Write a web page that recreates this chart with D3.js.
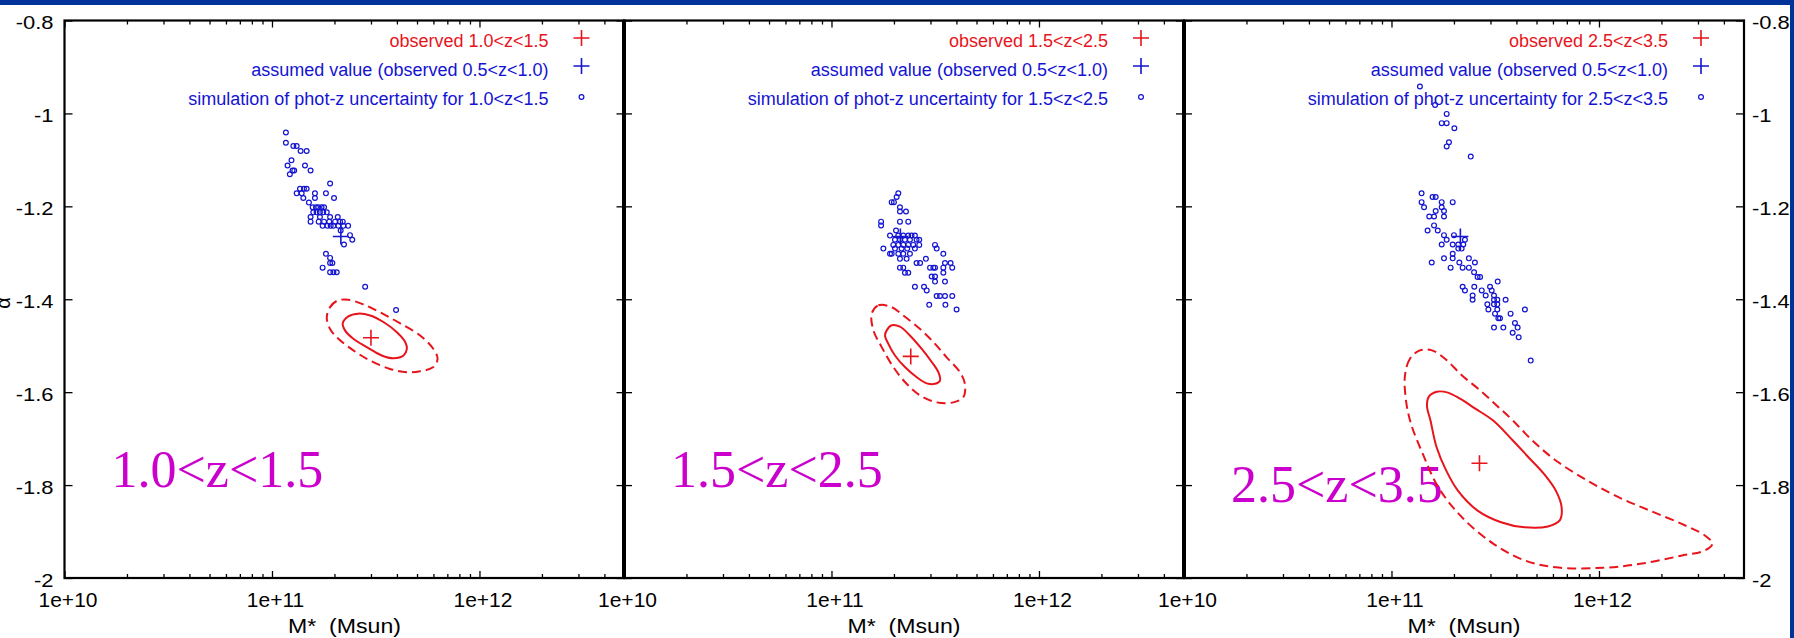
<!doctype html>
<html lang="en">
<head>
<meta charset="utf-8">
<title>alpha vs M* for three redshift bins</title>
<script src="https://cdn.jsdelivr.net/npm/d3@7"></script>
<style>
  body { margin: 0; background: #fff; }
  svg text { font-family: "Liberation Sans", Arial, Helvetica, sans-serif; }
</style>
</head>
<body>
<svg id="chart" width="1794" height="638"></svg>
<script>
// ---- data (log10 M*, alpha) ----
var zBins = ["1.0<z<1.5", "1.5<z<2.5", "2.5<z<3.5"];
var massTicks = [1e10, 1e11, 1e12];
var massTickLabels = ["1e+10", "1e+11", "1e+12"];
var minorMassTicks = [2e10, 3e10, 4e10, 5e10, 6e10, 7e10, 8e10, 9e10,
  2e11, 3e11, 4e11, 5e11, 6e11, 7e11, 8e11, 9e11, 2e12, 3e12, 4e12];
var alphaTicks = [-0.8, -1, -1.2, -1.4, -1.6, -1.8, -2];
var alphaTickLabels = ["-0.8", "-1", "-1.2", "-1.4", "-1.6", "-1.8", "-2"];

var assumedValue = [11.332, -1.265];
var observed = [[11.477, -1.483], [11.382, -1.523], [11.424, -1.753]];

var sim1 = [[11.067,-1.041],[11.067,-1.063],[11.103,-1.070],[11.119,-1.070],[11.138,-1.081],[11.167,-1.081],
  [11.094,-1.101],[11.075,-1.112],[11.099,-1.123],[11.086,-1.131],[11.107,-1.123],[11.159,-1.112],[11.186,-1.123],
  [11.280,-1.151],[11.135,-1.162],[11.154,-1.162],[11.167,-1.162],[11.119,-1.172],[11.143,-1.172],[11.151,-1.182],
  [11.207,-1.172],[11.207,-1.182],[11.260,-1.172],[11.299,-1.182],[11.178,-1.192],[11.196,-1.202],[11.212,-1.202],
  [11.223,-1.202],[11.239,-1.202],[11.251,-1.202],[11.199,-1.213],[11.215,-1.213],[11.231,-1.213],[11.247,-1.213],
  [11.264,-1.213],[11.186,-1.223],[11.231,-1.223],[11.280,-1.223],[11.317,-1.223],[11.186,-1.233],[11.225,-1.233],
  [11.251,-1.233],[11.276,-1.233],[11.304,-1.233],[11.328,-1.233],[11.341,-1.233],[11.244,-1.242],[11.267,-1.242],
  [11.283,-1.242],[11.296,-1.242],[11.320,-1.242],[11.344,-1.242],[11.367,-1.242],[11.331,-1.252],[11.376,-1.262],
  [11.387,-1.272],[11.347,-1.282],[11.260,-1.302],[11.280,-1.311],[11.280,-1.322],[11.291,-1.322],[11.244,-1.332],
  [11.280,-1.342],[11.296,-1.342],[11.312,-1.342],[11.449,-1.373],[11.598,-1.423]];

var sim2 = [[11.322,-1.172],[11.314,-1.180],[11.290,-1.191],[11.301,-1.191],[11.330,-1.202],[11.359,-1.211],
  [11.330,-1.211],[11.239,-1.233],[11.239,-1.241],[11.330,-1.233],[11.370,-1.233],[11.311,-1.252],[11.282,-1.263],
  [11.322,-1.263],[11.346,-1.263],[11.370,-1.263],[11.386,-1.263],[11.402,-1.263],[11.306,-1.272],[11.330,-1.272],
  [11.354,-1.272],[11.378,-1.272],[11.410,-1.272],[11.423,-1.272],[11.298,-1.283],[11.322,-1.283],[11.346,-1.283],
  [11.370,-1.283],[11.394,-1.283],[11.423,-1.283],[11.250,-1.291],[11.306,-1.291],[11.338,-1.291],[11.365,-1.291],
  [11.402,-1.291],[11.282,-1.302],[11.290,-1.302],[11.322,-1.302],[11.346,-1.302],[11.378,-1.302],[11.499,-1.283],
  [11.507,-1.291],[11.539,-1.302],[11.330,-1.313],[11.362,-1.313],[11.410,-1.322],[11.427,-1.322],[11.455,-1.313],
  [11.330,-1.332],[11.346,-1.332],[11.354,-1.343],[11.370,-1.343],[11.475,-1.332],[11.491,-1.332],[11.499,-1.332],
  [11.547,-1.322],[11.574,-1.322],[11.539,-1.332],[11.582,-1.332],[11.483,-1.351],[11.499,-1.351],[11.539,-1.343],
  [11.499,-1.362],[11.547,-1.362],[11.402,-1.373],[11.446,-1.373],[11.459,-1.381],[11.507,-1.393],[11.523,-1.393],
  [11.547,-1.393],[11.582,-1.393],[11.471,-1.412],[11.549,-1.412],[11.603,-1.422]];

var sim3 = [[11.137,-0.942],[11.210,-0.982],[11.266,-1.001],[11.242,-1.021],[11.266,-1.021],[11.303,-1.032],
  [11.277,-1.062],[11.266,-1.071],[11.382,-1.093],[11.145,-1.172],[11.145,-1.191],[11.157,-1.202],[11.198,-1.180],
  [11.213,-1.180],[11.242,-1.191],[11.295,-1.191],[11.242,-1.202],[11.213,-1.210],[11.253,-1.210],[11.182,-1.222],
  [11.205,-1.222],[11.253,-1.222],[11.205,-1.241],[11.174,-1.252],[11.223,-1.252],[11.253,-1.262],[11.301,-1.262],
  [11.266,-1.272],[11.242,-1.282],[11.354,-1.272],[11.295,-1.282],[11.322,-1.282],[11.346,-1.282],[11.322,-1.291],
  [11.338,-1.291],[11.295,-1.302],[11.295,-1.312],[11.194,-1.321],[11.253,-1.312],[11.285,-1.332],[11.327,-1.321],
  [11.343,-1.332],[11.373,-1.332],[11.373,-1.312],[11.402,-1.321],[11.398,-1.342],[11.415,-1.352],[11.427,-1.352],
  [11.512,-1.362],[11.343,-1.373],[11.399,-1.373],[11.354,-1.381],[11.435,-1.381],[11.391,-1.392],[11.391,-1.401],
  [11.454,-1.392],[11.475,-1.373],[11.483,-1.381],[11.494,-1.392],[11.494,-1.401],[11.510,-1.401],[11.550,-1.401],
  [11.462,-1.411],[11.494,-1.411],[11.510,-1.411],[11.467,-1.422],[11.510,-1.422],[11.643,-1.422],[11.499,-1.431],
  [11.515,-1.441],[11.574,-1.431],[11.523,-1.441],[11.494,-1.461],[11.539,-1.461],[11.595,-1.451],[11.608,-1.461],
  [11.584,-1.472],[11.613,-1.482],[11.671,-1.532]];

// confidence contours, solid (inner) and dashed (outer)
var inner1 = [[11.341,-1.452],[11.368,-1.437],[11.416,-1.431],[11.473,-1.435],[11.537,-1.449],[11.602,-1.471],
  [11.642,-1.492],[11.650,-1.507],[11.634,-1.521],[11.585,-1.527],[11.529,-1.521],[11.457,-1.503],[11.392,-1.485],
  [11.352,-1.467]];
var outer1 = [[11.264,-1.439],[11.280,-1.417],[11.315,-1.403],[11.368,-1.401],[11.440,-1.411],[11.521,-1.428],
  [11.618,-1.452],[11.714,-1.478],[11.778,-1.507],[11.798,-1.528],[11.778,-1.546],[11.714,-1.555],[11.650,-1.557],
  [11.569,-1.550],[11.473,-1.532],[11.392,-1.510],[11.320,-1.485],[11.280,-1.464]];
var inner2 = [[11.266,-1.467],[11.290,-1.456],[11.330,-1.459],[11.378,-1.478],[11.435,-1.507],[11.483,-1.535],
  [11.515,-1.557],[11.523,-1.575],[11.499,-1.582],[11.459,-1.581],[11.411,-1.568],[11.354,-1.546],[11.306,-1.521],
  [11.274,-1.496],[11.258,-1.478]];
var outer2 = [[11.194,-1.431],[11.226,-1.413],[11.290,-1.417],[11.346,-1.435],[11.427,-1.464],[11.491,-1.492],
  [11.555,-1.525],[11.619,-1.557],[11.643,-1.582],[11.635,-1.611],[11.587,-1.622],[11.507,-1.622],[11.427,-1.607],
  [11.362,-1.582],[11.298,-1.546],[11.242,-1.503],[11.202,-1.467]];
var inner3 = [[11.181,-1.609],[11.171,-1.629],[11.188,-1.661],[11.217,-1.718],[11.264,-1.769],[11.320,-1.812],
  [11.415,-1.855],[11.528,-1.880],[11.641,-1.891],[11.754,-1.889],[11.811,-1.876],[11.820,-1.848],[11.792,-1.812],
  [11.735,-1.776],[11.660,-1.740],[11.585,-1.704],[11.490,-1.661],[11.402,-1.635],[11.330,-1.614],[11.272,-1.601],
  [11.219,-1.599]];
var outer3 = [[11.137,-1.510],[11.089,-1.528],[11.065,-1.564],[11.070,-1.618],[11.094,-1.668],[11.151,-1.733],
  [11.226,-1.805],[11.339,-1.869],[11.490,-1.926],[11.641,-1.962],[11.792,-1.977],[12.019,-1.978],[12.207,-1.969],
  [12.396,-1.952],[12.509,-1.941],[12.547,-1.926],[12.509,-1.908],[12.396,-1.883],[12.245,-1.855],[12.094,-1.826],
  [11.943,-1.790],[11.792,-1.747],[11.679,-1.704],[11.585,-1.661],[11.508,-1.629],[11.427,-1.596],[11.340,-1.564],
  [11.258,-1.528],[11.195,-1.510]];

var simulations = [sim1, sim2, sim3];
var innerContours = [inner1, inner2, inner3];
var outerContours = [outer1, outer2, outer3];

// ---- layout ----
var panelLeft = [64.5, 624, 1184];
var panelWidth = 560;
var yTop = 20.5, yBottom = 578;
var zLabelBaseline = [487, 487, 502];
var red = "#e8141c", blue = "#1414d2", magenta = "#cc00cc";

var svg = d3.select("#chart");

var y = d3.scaleLinear().domain([-2, -0.8]).range([yBottom, yTop]);

// header bar and right edge
svg.append("rect").attr("x", 0).attr("y", 0).attr("width", 1794).attr("height", 5).attr("fill", "#003399");
svg.append("rect").attr("x", 1790).attr("y", 0).attr("width", 4).attr("height", 638).attr("fill", "#003399");

function noDomain(g) {
  g.select(".domain").remove();
  g.selectAll(".tick line").attr("stroke", "#000").attr("stroke-width", 1.3);
}

function plus(g, cx, cy, color, s) {
  g.append("path")
    .attr("d", "M" + (cx - s) + "," + cy + "H" + (cx + s) + "M" + cx + "," + (cy - s) + "V" + (cy + s))
    .attr("stroke", color).attr("stroke-width", 1.6).attr("fill", "none");
}

zBins.forEach(function(bin, i) {
  var x0 = panelLeft[i];
  var x = d3.scaleLog().domain([1e10, 5e12]).range([x0, x0 + panelWidth]);
  var px = function(d) { return x(Math.pow(10, d[0])); };
  var py = function(d) { return y(d[1]); };
  var g = svg.append("g").attr("class", "panel");

  // bottom axis: minor then major with labels
  g.append("g").attr("transform", "translate(0," + yBottom + ")")
    .call(d3.axisBottom(x).tickValues(minorMassTicks).tickSize(-4).tickFormat(""))
    .call(noDomain);
  g.append("g").attr("transform", "translate(0," + yBottom + ")")
    .call(d3.axisBottom(x).tickValues(massTicks).tickSize(-7).tickPadding(14)
      .tickFormat(function(d, j) { return massTickLabels[j]; }))
    .call(noDomain)
    .call(function(a) {
      a.selectAll("text").attr("fill", "#000").attr("font-size", 21).attr("dx", 3)
        .style("font-family", "'Liberation Sans', Arial, sans-serif");
    });
  // top axis
  g.append("g").attr("transform", "translate(0," + yTop + ")")
    .call(d3.axisTop(x).tickValues(minorMassTicks).tickSize(-4).tickFormat(""))
    .call(noDomain);
  g.append("g").attr("transform", "translate(0," + yTop + ")")
    .call(d3.axisTop(x).tickValues(massTicks).tickSize(-7).tickFormat(""))
    .call(noDomain);

  // left ticks (labels only on the first panel)
  var left = d3.axisLeft(y).tickValues(alphaTicks).tickSize(-8).tickPadding(9)
    .tickFormat(i === 0 ? function(d, j) { return alphaTickLabels[j]; } : "");
  g.append("g").attr("transform", "translate(" + x0 + ",0)").call(left).call(noDomain)
    .call(function(a) {
      a.selectAll("text").attr("fill", "#000").attr("font-size", 18).attr("dy", "0.47em")
        .attr("transform", "scale(1.22,1)");
    });
  var right = d3.axisRight(y).tickValues(alphaTicks).tickSize(-8).tickPadding(6.5)
    .tickFormat(i === 2 ? function(d, j) { return alphaTickLabels[j]; } : "");
  g.append("g").attr("transform", "translate(" + (x0 + panelWidth) + ",0)").call(right).call(noDomain)
    .call(function(a) {
      a.selectAll("text").attr("fill", "#000").attr("font-size", 18).attr("dy", "0.47em")
        .attr("transform", "scale(1.22,1)");
    });

  // frame
  g.append("rect")
    .attr("x", x0).attr("y", yTop).attr("width", panelWidth).attr("height", yBottom - yTop)
    .attr("fill", "none").attr("stroke", "#000").attr("stroke-width", 2.2);

  // axis title
  g.append("text")
    .attr("x", x0 + panelWidth / 2).attr("y", 633)
    .attr("text-anchor", "middle").attr("font-size", 21)
    .style("white-space", "pre")
    .attr("transform", "translate(" + (x0 + panelWidth / 2) + ",0) scale(1.1,1) translate(" + -(x0 + panelWidth / 2) + ",0)")
    .text("M*  (Msun)");

  // big redshift label
  g.append("text")
    .attr("x", x0 + 47).attr("y", zLabelBaseline[i])
    .style("font-family", "'Liberation Serif', 'Times New Roman', serif")
    .attr("font-size", 52).attr("fill", magenta)
    .text(bin);

  // contours
  var contour = d3.line().x(px).y(py).curve(d3.curveCatmullRomClosed.alpha(0.5));
  g.append("path").attr("d", contour(outerContours[i]))
    .attr("fill", "none").attr("stroke", red).attr("stroke-width", 2).attr("stroke-dasharray", "9,5");
  g.append("path").attr("d", contour(innerContours[i]))
    .attr("fill", "none").attr("stroke", red).attr("stroke-width", 2);

  // simulated points
  g.selectAll("circle.sim").data(simulations[i]).enter().append("circle")
    .attr("class", "sim")
    .attr("cx", px).attr("cy", py).attr("r", 2.4)
    .attr("fill", "none").attr("stroke", blue).attr("stroke-width", 1.2);

  // assumed value and observed value
  plus(g, px(assumedValue), py(assumedValue), blue, 8);
  plus(g, px(observed[i]), py(observed[i]), red, 8);

  // legend
  var lx = x0 + panelWidth - 76, mx = x0 + panelWidth - 43;
  var rows = [
    { text: "observed " + bin, color: red, y: 46.5, my: 38 },
    { text: "assumed value (observed 0.5<z<1.0)", color: blue, y: 76, my: 66 },
    { text: "simulation of phot-z uncertainty for " + bin, color: blue, y: 104.5, my: 97 }
  ];
  rows.forEach(function(r, k) {
    g.append("text").attr("x", lx).attr("y", r.y).attr("text-anchor", "end")
      .attr("font-size", 18).attr("fill", r.color).text(r.text);
    if (k < 2) plus(g, mx, r.my, r.color, 8);
    else g.append("circle").attr("cx", mx).attr("cy", r.my).attr("r", 2.4)
      .attr("fill", "none").attr("stroke", blue).attr("stroke-width", 1.2);
  });
});

// interior panel borders are heavier
panelLeft.slice(1).forEach(function(xb) {
  svg.append("line").attr("x1", xb).attr("x2", xb).attr("y1", yTop).attr("y2", yBottom)
    .attr("stroke", "#000").attr("stroke-width", 4);
});

// y-axis title (cut at the edge, as in the original)
svg.append("text")
  .attr("transform", "translate(10,303) rotate(-90)")
  .attr("text-anchor", "middle").attr("font-size", 20)
  .text("α");
</script>
</body>
</html>
